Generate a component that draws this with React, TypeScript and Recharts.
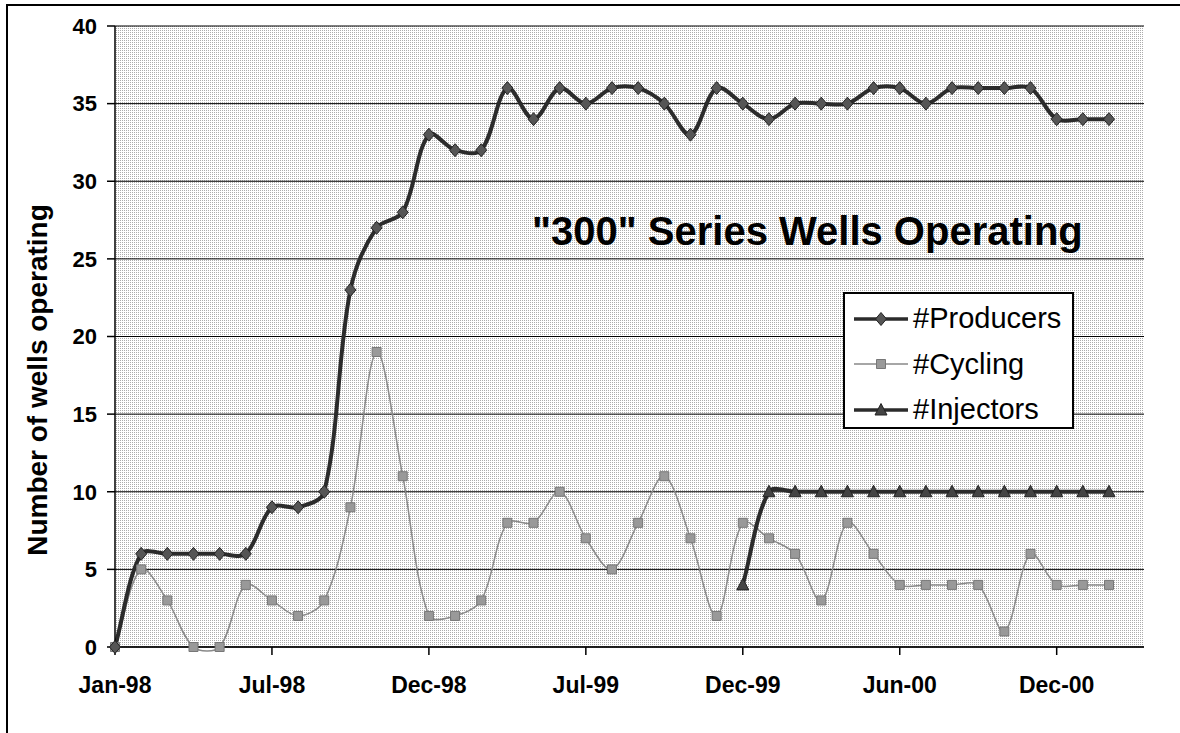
import { LineChart, Line, XAxis, YAxis, CartesianGrid } from 'recharts';

const months = [
  'Jan-98', 'Feb-98', 'Mar-98', 'Apr-98', 'May-98', 'Jun-98',
  'Jul-98', 'Aug-98', 'Sep-98', 'Oct-98', 'Oct-98', 'Nov-98',
  'Dec-98', 'Jan-99', 'Feb-99', 'Mar-99', 'Apr-99', 'Jun-99',
  'Jul-99', 'Aug-99', 'Sep-99', 'Oct-99', 'Nov-99', 'Nov-99',
  'Dec-99', 'Jan-00', 'Feb-00', 'Mar-00', 'Apr-00', 'May-00',
  'Jun-00', 'Jul-00', 'Aug-00', 'Sep-00', 'Oct-00', 'Nov-00',
  'Dec-00', 'Jan-01', 'Feb-01',
];

const producers = [
  0, 6, 6, 6, 6, 6, 9, 9, 10, 23, 27, 28, 33, 32, 32, 36, 34, 36, 35, 36,
  36, 35, 33, 36, 35, 34, 35, 35, 35, 36, 36, 35, 36, 36, 36, 36, 34, 34, 34,
];

const cycling = [
  0, 5, 3, 0, 0, 4, 3, 2, 3, 9, 19, 11, 2, 2, 3, 8, 8, 10, 7, 5,
  8, 11, 7, 2, 8, 7, 6, 3, 8, 6, 4, 4, 4, 4, 1, 6, 4, 4, 4,
];

const injectors: (number | null)[] = [
  null, null, null, null, null, null, null, null, null, null, null, null,
  null, null, null, null, null, null, null, null, null, null, null, null,
  4, 10, 10, 10, 10, 10, 10, 10, 10, 10, 10, 10, 10, 10, 10,
];

const yTicks = [0, 5, 10, 15, 20, 25, 30, 35, 40];

const data = months.map((m, i) => ({
  month: m,
  producers: producers[i],
  cycling: cycling[i],
  injectors: injectors[i],
}));

const FONT = '"Liberation Sans", Arial, sans-serif';

// Excel-like smoothing: bezier through each point, tangent length scaled by segment lengths
const excelSmooth = (context: any) => {
  let pts: number[][] = [];
  const dist = (a: number[], b: number[]) => Math.hypot(b[0] - a[0], b[1] - a[1]);
  return {
    areaStart() {},
    areaEnd() {},
    lineStart() {
      pts = [];
    },
    lineEnd() {
      const n = pts.length;
      if (!n) return;
      context.moveTo(pts[0][0], pts[0][1]);
      if (n === 1) {
        context.lineTo(pts[0][0], pts[0][1]);
        return;
      }
      const t = 1 / 3;
      for (let i = 0; i < n - 1; i++) {
        const p0 = pts[i - 1] || pts[i];
        const p1 = pts[i];
        const p2 = pts[i + 1];
        const p3 = pts[i + 2] || p2;
        const d01 = dist(p0, p1);
        const d12 = dist(p1, p2);
        const d23 = dist(p2, p3);
        const f1 = d01 + d12 > 0 ? (t * d12) / (d01 + d12) : 0;
        const f2 = d12 + d23 > 0 ? (t * d12) / (d12 + d23) : 0;
        context.bezierCurveTo(
          p1[0] + (p2[0] - p0[0]) * f1,
          p1[1] + (p2[1] - p0[1]) * f1,
          p2[0] - (p3[0] - p1[0]) * f2,
          p2[1] - (p3[1] - p1[1]) * f2,
          p2[0],
          p2[1]
        );
      }
    },
    point(x: number, y: number) {
      pts.push([+x, +y]);
    },
  };
};

const diamondPath = (cx: number, cy: number) =>
  `M${cx},${cy - 6.5}L${cx + 5.5},${cy}L${cx},${cy + 6.5}L${cx - 5.5},${cy}Z`;
const squarePath = (cx: number, cy: number) =>
  `M${cx - 4.5},${cy - 4.5}h9v9h-9Z`;
const trianglePath = (cx: number, cy: number) =>
  `M${cx},${cy - 6.5}L${cx + 6},${cy + 5}L${cx - 6},${cy + 5}Z`;

const makeDot = (shape: (x: number, y: number) => string, fill: string, stroke: string) =>
  (props: any) => {
    const { cx, cy, value, index } = props;
    if (cx == null || cy == null || value == null) return <g key={`d-${index}`} />;
    return <path key={`d-${index}`} d={shape(cx, cy)} fill={fill} stroke={stroke} strokeWidth={1} />;
  };

const legendItems = [
  { name: '#Producers', shape: diamondPath, fill: '#555', stroke: '#222', line: '#2b2b2b', width: 3.5 },
  { name: '#Cycling', shape: squarePath, fill: '#999', stroke: '#777', line: '#888', width: 1.5 },
  { name: '#Injectors', shape: trianglePath, fill: '#444', stroke: '#222', line: '#2b2b2b', width: 3.5 },
];

export default function App() {
  return (
    <div
      style={{
        position: 'absolute',
        left: 0,
        top: 0,
        width: 1180,
        height: 733,
        background: '#fff',
        overflow: 'hidden',
        fontFamily: FONT,
      }}
    >
      {/* outer chart frame */}
      <div
        style={{
          position: 'absolute',
          left: 6,
          top: 4,
          width: 1300,
          height: 900,
          borderTop: '2px solid #000',
          borderLeft: '2px solid #000',
        }}
      />
      <div style={{ position: 'absolute', left: 0, top: 0 }}>
        <LineChart
          width={1180}
          height={733}
          data={data}
          margin={{ top: 26, right: 36, bottom: 56, left: 0 }}
        >
          <defs>
            <pattern id="dots" width="2" height="2" patternUnits="userSpaceOnUse">
              <rect width="2" height="2" fill="#ffffff" />
              <rect width="1" height="1" fill="#acacac" />
            </pattern>
          </defs>
          <CartesianGrid vertical={false} stroke="#000" strokeWidth={1} fill="url(#dots)" fillOpacity={1} />
          <XAxis
            dataKey="month"
            interval={5}
            padding={{ left: 0, right: 35 }}
            tickSize={8}
            tickMargin={22}
            tick={{ fill: '#000', fontSize: 23, fontWeight: 700, fontFamily: FONT }}
            axisLine={{ stroke: '#000', strokeWidth: 1.5 }}
            tickLine={{ stroke: '#000', strokeWidth: 1.5 }}
          />
          <XAxis
            xAxisId="top"
            orientation="top"
            dataKey="month"
            height={0}
            padding={{ left: 0, right: 35 }}
            tick={false}
            tickLine={false}
            axisLine={{ stroke: '#333', strokeWidth: 1.5, strokeDasharray: '2 2' }}
          />
          <YAxis
            domain={[0, 40]}
            ticks={yTicks}
            width={115}
            tickSize={8}
            tickMargin={10}
            tick={{ fill: '#000', fontSize: 22, fontWeight: 700, fontFamily: FONT }}
            axisLine={{ stroke: '#000', strokeWidth: 1.5 }}
            tickLine={{ stroke: '#000', strokeWidth: 1.5 }}
          />
          <YAxis
            yAxisId="right"
            orientation="right"
            domain={[0, 40]}
            width={0}
            tick={false}
            tickLine={false}
            axisLine={{ stroke: '#333', strokeWidth: 2.5, strokeDasharray: '3 2' }}
          />
          <Line
            dataKey="cycling"
            type={excelSmooth as any}
            stroke="#8a8a8a"
            strokeWidth={1.5}
            dot={makeDot(squarePath, '#999', '#777')}
            isAnimationActive={false}
          />
          <Line
            dataKey="injectors"
            type={excelSmooth as any}
            stroke="#2b2b2b"
            strokeWidth={4}
            dot={makeDot(trianglePath, '#444', '#222')}
            isAnimationActive={false}
          />
          <Line
            dataKey="producers"
            type={excelSmooth as any}
            stroke="#2b2b2b"
            strokeWidth={4}
            dot={makeDot(diamondPath, '#555', '#222')}
            isAnimationActive={false}
          />
        </LineChart>
      </div>

      {/* y axis title */}
      <div
        style={{
          position: 'absolute',
          left: 38,
          top: 380,
          transform: 'translate(-50%, -50%) rotate(-90deg)',
          whiteSpace: 'nowrap',
          fontSize: 28,
          fontWeight: 700,
          lineHeight: 1,
        }}
      >
        Number of wells operating
      </div>

      {/* chart title */}
      <div
        style={{
          position: 'absolute',
          left: 532,
          top: 211,
          whiteSpace: 'nowrap',
          fontSize: 40,
          fontWeight: 700,
          lineHeight: 1,
        }}
      >
        "300" Series Wells Operating
      </div>

      {/* legend */}
      <div
        style={{
          position: 'absolute',
          left: 843,
          top: 292,
          width: 231,
          height: 137,
          boxSizing: 'border-box',
          border: '2px solid #000',
          background: '#fff',
          paddingTop: 2,
        }}
      >
        {legendItems.map((it) => (
          <div key={it.name} style={{ display: 'flex', alignItems: 'center', height: 45.5 }}>
            <svg width={60} height={20} style={{ marginLeft: 7, flex: 'none' }}>
              <line x1={2} y1={10} x2={56} y2={10} stroke={it.line} strokeWidth={it.width} />
              <path d={it.shape(29, 10)} fill={it.fill} stroke={it.stroke} strokeWidth={1} />
            </svg>
            <span style={{ marginLeft: 1, fontSize: 29, lineHeight: 1, color: '#000' }}>{it.name}</span>
          </div>
        ))}
      </div>
    </div>
  );
}
